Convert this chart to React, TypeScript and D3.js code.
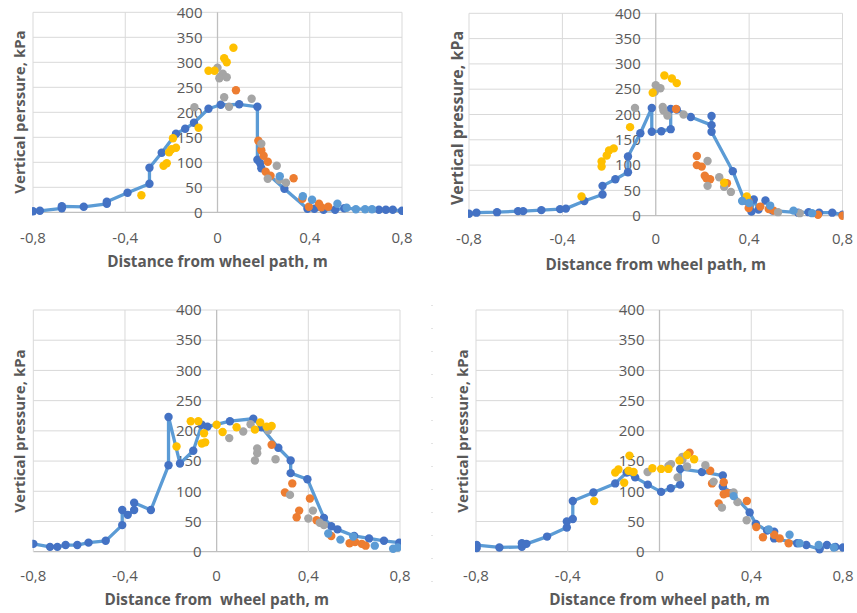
import React from 'react';
import * as d3 from 'd3';

type Pt = [number, number];

// ---- panel 1 (top left) ----
const p1Line: Pt[] = [
  [-0.8, 2], [-0.77, 3], [-0.675, 8], [-0.675, 12], [-0.58, 11], [-0.48, 17], [-0.48, 21],
  [-0.39, 39], [-0.295, 57], [-0.295, 89], [-0.242, 119], [-0.18, 157], [-0.14, 167],
  [-0.102, 179], [-0.039, 207], [0.014, 215], [0.094, 216], [0.173, 211], [0.173, 105],
  [0.185, 98], [0.19, 88], [0.29, 47], [0.39, 7], [0.42, 7], [0.46, 5], [0.51, 5],
  [0.55, 8], [0.7, 5], [0.73, 5], [0.76, 5], [0.8, 3],
];
const p1LightBlue: Pt[] = [
  [0.27, 72], [0.37, 32], [0.41, 25], [0.52, 17], [0.56, 9], [0.6, 6], [0.64, 6], [0.67, 6],
];
const p1Orange: Pt[] = [
  [0.08, 244], [0.177, 143], [0.19, 124], [0.2, 113], [0.218, 101], [0.209, 81], [0.23, 73],
  [0.33, 68], [0.368, 27], [0.396, 11], [0.44, 17], [0.45, 10], [0.48, 11],
];
const p1Gray: Pt[] = [
  [-0.1, 210], [0.0, 289], [0.012, 271], [0.008, 268], [0.023, 277], [0.04, 270], [0.029, 230],
  [0.05, 211], [0.148, 227], [0.19, 137], [0.257, 93], [0.218, 67], [0.268, 65], [0.297, 59],
];
const p1Yellow: Pt[] = [
  [-0.33, 34], [-0.234, 93], [-0.22, 98], [-0.21, 120], [-0.2, 126], [-0.18, 129], [-0.193, 148],
  [-0.082, 169], [-0.039, 283], [-0.013, 283], [0.029, 308], [0.04, 300], [0.069, 329],
];

// ---- panel 2 (top right) ----
const p2Line: Pt[] = [
  [-0.8, 4], [-0.768, 6], [-0.68, 7], [-0.59, 9], [-0.568, 9], [-0.49, 11], [-0.41, 13],
  [-0.385, 14], [-0.306, 29], [-0.228, 42], [-0.228, 59], [-0.173, 72], [-0.119, 86],
  [-0.119, 117], [-0.066, 163], [-0.017, 213], [-0.017, 166], [0.024, 167], [0.064, 171],
  [0.064, 211], [0.09, 210], [0.15, 195], [0.239, 179], [0.239, 197], [0.239, 166], [0.33, 88],
  [0.38, 30], [0.41, 8], [0.42, 32], [0.44, 12], [0.47, 30], [0.5, 10], [0.61, 6], [0.655, 7],
  [0.7, 6], [0.756, 6], [0.8, 2],
];
const p2LightBlue: Pt[] = [
  [0.37, 29], [0.4, 25], [0.49, 20], [0.59, 10], [0.67, 5],
];
const p2Orange: Pt[] = [
  [0.087, 211], [0.176, 118], [0.176, 100], [0.197, 97], [0.21, 79], [0.217, 74], [0.233, 72],
  [0.305, 64], [0.398, 28], [0.398, 15], [0.448, 18], [0.484, 13], [0.505, 10], [0.695, 2], [0.8, 0],
];
const p2Gray: Pt[] = [
  [-0.089, 213], [0.0, 258], [-0.004, 245], [0.02, 252], [0.03, 215], [0.033, 208], [0.05, 198],
  [0.119, 200], [0.222, 108], [0.222, 59], [0.272, 76], [0.293, 57], [0.322, 47], [0.524, 7], [0.617, 5],
];
const p2Yellow: Pt[] = [
  [-0.318, 38], [-0.232, 97], [-0.232, 107], [-0.21, 119], [-0.2, 129], [-0.18, 133], [-0.11, 175],
  [-0.013, 243], [0.037, 277], [0.069, 271], [0.09, 262], [0.293, 65], [0.39, 38],
];

// ---- panel 3 (bottom left) ----
const p3Line: Pt[] = [
  [-0.8, 13], [-0.727, 8], [-0.695, 8], [-0.659, 11], [-0.608, 11], [-0.559, 15], [-0.484, 18],
  [-0.412, 44], [-0.412, 69], [-0.388, 61], [-0.36, 69], [-0.36, 81], [-0.287, 69], [-0.21, 143],
  [-0.21, 223], [-0.16, 146], [-0.102, 167], [-0.065, 210], [-0.04, 207], [0.058, 216],
  [0.16, 220], [0.196, 206], [0.269, 172], [0.323, 151], [0.323, 130], [0.396, 120], [0.468, 56],
  [0.5, 42], [0.527, 37], [0.6, 26], [0.665, 22], [0.73, 18], [0.797, 15],
];
const p3LightBlue: Pt[] = [
  [0.487, 30], [0.54, 20], [0.596, 25], [0.69, 10], [0.77, 5], [0.79, 7],
];
const p3Orange: Pt[] = [
  [0.24, 177], [0.298, 98], [0.33, 113], [0.349, 57], [0.36, 68], [0.407, 88], [0.436, 52],
  [0.5, 26], [0.58, 14], [0.604, 16], [0.633, 13], [0.65, 10],
];
const p3Gray: Pt[] = [
  [0.148, 211], [0.116, 199], [0.055, 188], [0.177, 171], [0.177, 163], [0.167, 151], [0.225, 201],
  [0.257, 153], [0.32, 94], [0.4, 55], [0.42, 68], [0.45, 48], [0.468, 44],
];
const p3Yellow: Pt[] = [
  [-0.175, 174], [-0.113, 216], [-0.08, 216], [-0.055, 196], [-0.065, 179], [-0.05, 181], [0, 210],
  [0.026, 198], [0.087, 206], [0.167, 202], [0.19, 214], [0.218, 207], [0.24, 208],
];

// ---- panel 4 (bottom right) ----
const p4Line: Pt[] = [
  [-0.797, 6], [-0.797, 11], [-0.698, 7], [-0.6, 8], [-0.6, 14], [-0.58, 13], [-0.49, 25],
  [-0.404, 40], [-0.404, 50], [-0.378, 54], [-0.378, 84], [-0.288, 98], [-0.193, 113],
  [-0.143, 131], [-0.106, 123], [-0.051, 111], [0.007, 99], [0.049, 105], [0.09, 111],
  [0.09, 137], [0.185, 132], [0.276, 126], [0.276, 108], [0.316, 97], [0.393, 65], [0.42, 46],
  [0.469, 35], [0.5, 33], [0.5, 22], [0.6, 14], [0.64, 11], [0.698, 4], [0.73, 11],
  [0.767, 8], [0.8, 7],
];
const p4LightBlue: Pt[] = [
  [0.323, 92], [0.476, 37], [0.567, 28], [0.611, 14], [0.694, 11], [0.76, 7],
];
const p4Orange: Pt[] = [
  [0.131, 164], [0.221, 134], [0.229, 113], [0.258, 80], [0.28, 115], [0.28, 95], [0.297, 97],
  [0.381, 84], [0.422, 41], [0.451, 24], [0.5, 28], [0.524, 22], [0.563, 14],
];
const p4Gray: Pt[] = [
  [-0.052, 132], [0.039, 142], [0.05, 145], [0.079, 123], [0.1, 152], [0.1, 157], [0.12, 141],
  [0.2, 143], [0.236, 116], [0.272, 73], [0.323, 98], [0.34, 82], [0.38, 52],
];
const p4Yellow: Pt[] = [
  [-0.285, 84], [-0.193, 131], [-0.179, 136], [-0.154, 114], [-0.131, 159], [-0.135, 134],
  [-0.113, 132], [-0.031, 138], [0.007, 137], [0.039, 137], [0.087, 151], [0.12, 160], [0.151, 153],
];

const xTicks = [-0.8, -0.4, 0, 0.4, 0.8];
const xTickLabels = ['-0,8', '-0,4', '0', '0,4', '0,8'];
const yTicks = [0, 50, 100, 150, 200, 250, 300, 350, 400];
const yTitles = ['Vertical perssure, kPa', 'Vertical pressure, kPa', 'Vertical pressure, kPa', 'Vertical pressure, kPa'];
const xTitles = ['Distance from wheel path, m', 'Distance from wheel path, m', 'Distance from  wheel path, m', 'Distance from wheel path, m'];

const panelData = [
  { line: p1Line, lightBlue: p1LightBlue, orange: p1Orange, gray: p1Gray, yellow: p1Yellow },
  { line: p2Line, lightBlue: p2LightBlue, orange: p2Orange, gray: p2Gray, yellow: p2Yellow },
  { line: p3Line, lightBlue: p3LightBlue, orange: p3Orange, gray: p3Gray, yellow: p3Yellow },
  { line: p4Line, lightBlue: p4LightBlue, orange: p4Orange, gray: p4Gray, yellow: p4Yellow },
];

// plot boxes in page pixels
const layout = [
  { left: 33, right: 402, top: 12.3, bottom: 212.3, tickY: 238, titleY: 262, yTitleX: 20, yTitleY: 112, yTitleSize: 15 },
  { left: 469, right: 842.5, top: 13.3, bottom: 215.7, tickY: 239, titleY: 265, yTitleX: 457, yTitleY: 118, yTitleSize: 16 },
  { left: 33.3, right: 400, top: 310, bottom: 551.7, tickY: 576, titleY: 600, yTitleX: 20, yTitleY: 431, yTitleSize: 15 },
  { left: 476, right: 843, top: 310, bottom: 551.7, tickY: 576, titleY: 600, yTitleX: 463, yTitleY: 431, yTitleSize: 15 },
];

const FONT = '"Open Sans", sans-serif';
const R = 4.2;

function Panel({ idx }: { idx: number }) {
  const L = layout[idx];
  const d = panelData[idx];
  const x = d3.scaleLinear().domain([-0.8, 0.8]).range([L.left, L.right]);
  const y = d3.scaleLinear().domain([0, 400]).range([L.bottom, L.top]);
  const line = d3.line<Pt>().x(p => x(p[0])).y(p => y(p[1]));
  const clipId = 'clip' + idx;

  const dots = (pts: Pt[], color: string, key: string) =>
    pts.map((p, i) => <circle key={key + i} cx={x(p[0])} cy={y(p[1])} r={R} fill={color} />);

  return (
    <g>
      <defs>
        <clipPath id={clipId}>
          <rect x={L.left - 1} y={L.top - 6} width={L.right - L.left + 2} height={L.bottom - L.top + 12} />
        </clipPath>
      </defs>
      {/* grid */}
      {yTicks.map(t => (
        <line key={'gy' + t} x1={L.left} x2={L.right} y1={y(t)} y2={y(t)}
          stroke={t === 0 ? '#bfbfbf' : '#d9d9d9'} strokeWidth={t === 0 ? 1.3 : 1} />
      ))}
      {xTicks.map(t => (
        <line key={'gx' + t} x1={x(t)} x2={x(t)} y1={L.top} y2={L.bottom}
          stroke={t === 0 ? '#bfbfbf' : '#d9d9d9'} strokeWidth={t === 0 ? 1.3 : 1} />
      ))}
      {/* y tick labels sit left of the zero axis, under the data */}
      {yTicks.map(t => (
        <text key={'yl' + t} x={x(0) - 15} y={y(t)} dy="0.35em" textAnchor="end"
          fontSize={15} fill="#595959" fontFamily={FONT}>{t}</text>
      ))}
      {xTicks.map((t, i) => (
        <text key={'xl' + t} x={x(t)} y={L.tickY} dy="0.35em" textAnchor="middle"
          fontSize={15} fill="#595959" fontFamily={FONT}>{xTickLabels[i]}</text>
      ))}
      <text x={(L.left + L.right) / 2} y={L.titleY} dy="0.35em" textAnchor="middle" fontSize={15.3}
        fontWeight="bold" fill="#595959" fontFamily={FONT} style={{ whiteSpace: 'pre' }}>{xTitles[idx]}</text>
      <text transform={`translate(${L.yTitleX},${L.yTitleY}) rotate(-90)`} dy="0.35em" textAnchor="middle"
        fontSize={L.yTitleSize} fontWeight="bold" fill="#595959" fontFamily={FONT}>{yTitles[idx]}</text>

      <g clipPath={`url(#${clipId})`}>
        <path d={line(d.line) || ''} fill="none" stroke="#5B9BD5" strokeWidth={3.3} strokeLinejoin="round" />
        {dots(d.line, '#4472C4', 'b')}
        {dots(d.orange, '#ED7D31', 'o')}
        {dots(d.gray, '#A5A5A5', 'g')}
        {dots(d.yellow, '#FFC000', 'y')}
        {dots(d.lightBlue, '#5B9BD5', 'l')}
      </g>
    </g>
  );
}

export default function App() {
  return (
    <svg width={857} height={613} style={{ position: 'absolute', left: 0, top: 0, background: '#fff' }}>
      <rect width={857} height={613} fill="#fff" />
      <line x1={432} x2={432} y1={305} y2={600} stroke="#c8c8c8" strokeWidth={1} strokeDasharray="1 22" />
      {[0, 1, 2, 3].map(i => <Panel key={i} idx={i} />)}
    </svg>
  );
}
